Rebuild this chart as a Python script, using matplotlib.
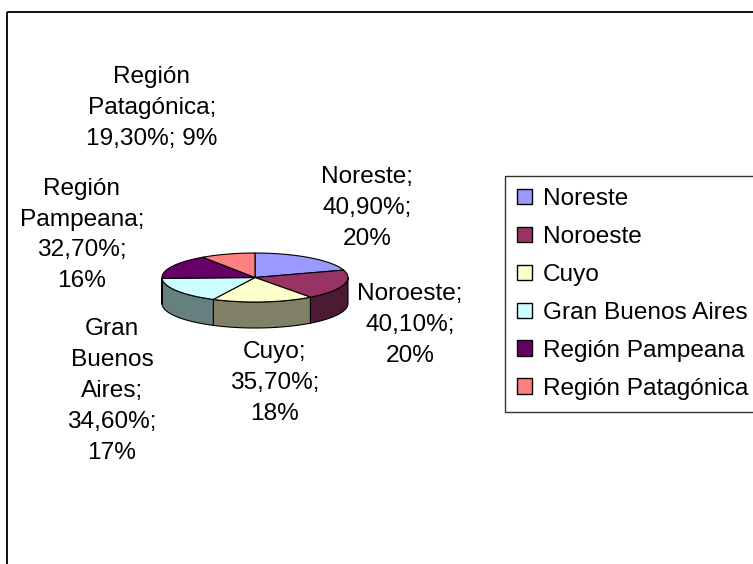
import numpy as np
import matplotlib
matplotlib.use("Agg")
import matplotlib.pyplot as plt
from matplotlib.patches import Polygon, Patch

# ---- data ----
categories = ["Noreste", "Noroeste", "Cuyo", "Gran Buenos Aires", "Región Pampeana", "Región Patagónica"]
label_names = ["Noreste", "Noroeste", "Cuyo", "Gran\nBuenos\nAires", "Región\nPampeana", "Región\nPatagónica"]
values = [40.9, 40.1, 35.7, 34.6, 32.7, 19.3]

# ---- style ----
top_colors = ["#9999FF", "#993366", "#FFFFCC", "#CCFFFF", "#660066", "#FF8080"]
side_colors = ["#4D4D80", "#4D1A33", "#808066", "#668080", "#330033", "#804040"]
label_pos = [(367, 208), (410, 325), (275, 383), (112, 391), (82, 235), (152, 108)]
pct_sep = ["\n", "\n", "\n", "\n", "\n", " "]

W, H = 753, 564
fig = plt.figure(figsize=(W / 100, H / 100), dpi=100)
ax = fig.add_axes([0, 0, 1, 1])
ax.set_xlim(0, W)
ax.set_ylim(H, 0)
ax.axis("off")

plt.rcParams["font.family"] = ["Liberation Sans", "DejaVu Sans"]
FS = 17.6

# frame (cut off at right and bottom)
ax.plot([7, W + 5], [12, 12], color="black", lw=1.3, solid_capstyle="butt")
ax.plot([7, 7], [12, H + 5], color="black", lw=1.3, solid_capstyle="butt")

# ---- 3D pie ----
cx, cy, rx, ry, depth = 255, 277.5, 93, 24.5, 26
total = sum(values)
fracs = [v / total for v in values]


def pt(theta_deg, dy=0.0):
    t = np.radians(theta_deg)
    return cx + rx * np.cos(t), cy - ry * np.sin(t) + dy


start = 90.0
angles = []
for f in fracs:
    end = start - 360 * f
    angles.append((start, end))
    start = end

# side walls (front half: math angle in [-180, 0])
for i, (a0, a1) in enumerate(angles):
    for shift in (0, -360, 360):
        hi = min(a0 + shift, 0)
        lo = max(a1 + shift, -180)
        if hi > lo:
            th = np.linspace(hi, lo, 60)
            top = [pt(t) for t in th]
            bot = [pt(t, depth) for t in th[::-1]]
            poly = Polygon(top + bot, closed=True, facecolor=side_colors[i],
                           edgecolor="black", lw=0.8, zorder=2)
            ax.add_patch(poly)

# top faces
for i, (a0, a1) in enumerate(angles):
    th = np.linspace(a0, a1, 100)
    verts = [(cx, cy)] + [pt(t) for t in th]
    poly = Polygon(verts, closed=True, facecolor=top_colors[i],
                   edgecolor="black", lw=0.8, zorder=3)
    ax.add_patch(poly)

# ---- labels ----
for i, v in enumerate(values):
    pct = round(100 * v / total)
    val = f"{v:.2f}".replace(".", ",")
    txt = f"{label_names[i]};\n{val}%;{pct_sep[i]}{pct}%"
    x, y = label_pos[i]
    ax.text(x, y, txt, ha="center", va="center", multialignment="center",
            fontsize=FS, linespacing=1.52, zorder=5)

# ---- legend ----
handles = [Patch(facecolor=c, edgecolor="black", lw=1.0) for c in top_colors]
leg = fig.legend(handles, categories, loc="upper left",
                 bbox_to_anchor=(505 / W, 1 - 176 / H), bbox_transform=fig.transFigure,
                 fontsize=FS, frameon=True, fancybox=False, edgecolor="black",
                 borderaxespad=0, borderpad=0.5, handlelength=0.6, handleheight=0.6,
                 handletextpad=0.45, labelspacing=0.65)
leg.get_frame().set_linewidth(1.0)

fig.savefig("out.png", dpi=100, facecolor="white")
